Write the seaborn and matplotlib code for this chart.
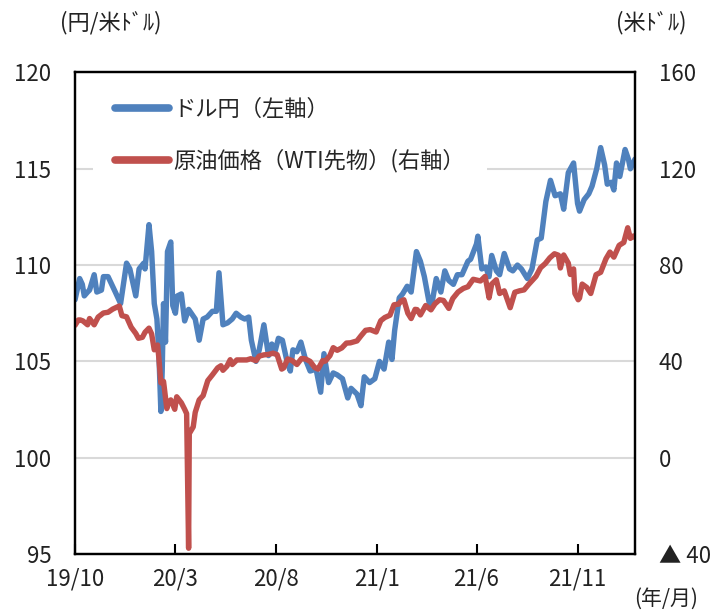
import pandas as pd
import matplotlib
matplotlib.use("Agg")
import matplotlib.pyplot as plt
import seaborn as sns


# DATA
usd_dates = [
    "2019-10-31", "2019-11-07", "2019-11-11", "2019-11-14", "2019-11-19", "2019-11-22",
    "2019-11-29", "2019-12-03", "2019-12-10", "2019-12-13", "2019-12-20", "2019-12-31",
    "2020-01-08", "2020-01-17", "2020-01-22", "2020-01-31", "2020-02-05", "2020-02-12",
    "2020-02-14", "2020-02-20", "2020-02-24", "2020-02-28", "2020-03-03", "2020-03-06",
    "2020-03-09", "2020-03-11", "2020-03-13", "2020-03-16", "2020-03-19", "2020-03-24",
    "2020-03-27", "2020-03-31", "2020-04-03", "2020-04-09", "2020-04-14", "2020-04-20",
    "2020-04-24", "2020-04-30", "2020-05-06", "2020-05-12", "2020-05-18", "2020-05-26",
    "2020-06-01", "2020-06-05", "2020-06-11", "2020-06-18", "2020-06-25", "2020-07-01",
    "2020-07-08", "2020-07-14", "2020-07-20", "2020-07-24", "2020-07-31", "2020-08-05",
    "2020-08-12", "2020-08-19", "2020-08-24", "2020-08-28", "2020-09-03", "2020-09-09",
    "2020-09-16", "2020-09-21", "2020-09-25", "2020-10-01", "2020-10-07", "2020-10-14",
    "2020-10-21", "2020-10-30", "2020-11-06", "2020-11-11", "2020-11-18", "2020-11-25",
    "2020-12-01", "2020-12-09", "2020-12-17", "2020-12-22", "2020-12-31", "2021-01-06",
    "2021-01-11", "2021-01-19", "2021-01-27", "2021-02-03", "2021-02-10", "2021-02-17",
    "2021-02-22", "2021-02-26", "2021-03-05", "2021-03-10", "2021-03-17", "2021-03-23",
    "2021-03-31", "2021-04-06", "2021-04-12", "2021-04-19", "2021-04-23", "2021-04-30",
    "2021-05-07", "2021-05-13", "2021-05-19", "2021-05-26", "2021-06-01", "2021-06-08",
    "2021-06-17", "2021-06-21", "2021-06-30", "2021-07-02", "2021-07-08", "2021-07-14",
    "2021-07-19", "2021-07-23", "2021-07-30", "2021-08-04", "2021-08-11", "2021-08-19",
    "2021-08-24", "2021-08-31", "2021-09-06", "2021-09-15", "2021-09-22", "2021-09-30",
    "2021-10-06", "2021-10-13", "2021-10-20", "2021-10-27", "2021-11-04", "2021-11-09",
    "2021-11-16", "2021-11-24", "2021-11-30", "2021-12-03", "2021-12-10", "2021-12-17",
    "2021-12-22", "2021-12-29", "2022-01-04", "2022-01-10", "2022-01-14", "2022-01-20",
    "2022-01-24", "2022-01-28", "2022-02-02", "2022-02-10", "2022-02-15", "2022-02-18",
    "2022-02-25",
]
usd_jpy = [
    108.2, 109.3, 109.0, 108.4, 108.6, 108.7,
    109.5, 108.6, 108.7, 109.4, 109.4, 108.6,
    108.0, 110.1, 109.8, 108.4, 109.8, 110.1,
    109.8, 112.1, 110.7, 108.0, 107.2, 105.4,
    102.4, 104.5, 108.0, 106.0, 110.7, 111.2,
    107.9, 107.5, 108.4, 108.5, 107.1, 107.7,
    107.5, 107.2, 106.1, 107.2, 107.3, 107.6,
    107.6, 109.6, 106.9, 107.0, 107.2, 107.5,
    107.3, 107.2, 107.3, 106.1, 105.0, 105.6,
    106.9, 105.3, 105.9, 105.4, 106.2, 106.1,
    105.0, 104.5, 105.6, 105.5, 106.0, 105.1,
    104.5, 104.6, 103.4, 105.4, 103.9, 104.4,
    104.3, 104.1, 103.1, 103.6, 103.3, 102.7,
    104.2, 103.9, 104.1, 105.0, 104.6, 106.0,
    105.1, 106.6, 108.3, 108.5, 108.9, 108.6,
    110.7, 110.2, 109.4, 108.1, 107.9, 109.3,
    108.6, 109.7, 109.2, 109.0, 109.5, 109.5,
    110.2, 110.3, 111.1, 111.5, 109.8, 109.9,
    109.4, 110.5, 109.7, 109.5, 110.6, 109.8,
    109.7, 110.0, 109.8, 109.3, 109.8, 111.3,
    111.4, 113.3, 114.4, 113.6, 113.7, 112.9,
    114.8, 115.3, 113.2, 112.8, 113.4, 113.7,
    114.1, 115.0, 116.1, 115.2, 114.2, 114.3,
    113.9, 115.3, 114.6, 116.0, 115.5, 115.0,
    115.5,
]

wti_dates = [
    "2019-10-31", "2019-11-05", "2019-11-08", "2019-11-12", "2019-11-19", "2019-11-22",
    "2019-11-29", "2019-12-05", "2019-12-13", "2019-12-20", "2019-12-27", "2020-01-06",
    "2020-01-10", "2020-01-17", "2020-01-24", "2020-01-31", "2020-02-04", "2020-02-10",
    "2020-02-14", "2020-02-20", "2020-02-24", "2020-02-28", "2020-03-04", "2020-03-06",
    "2020-03-09", "2020-03-13", "2020-03-18", "2020-03-20", "2020-03-24", "2020-03-30",
    "2020-04-02", "2020-04-09", "2020-04-14", "2020-04-17", "2020-04-20", "2020-04-21",
    "2020-04-27", "2020-04-30", "2020-05-06", "2020-05-12", "2020-05-19", "2020-05-26",
    "2020-06-03", "2020-06-08", "2020-06-11", "2020-06-17", "2020-06-22", "2020-06-25",
    "2020-07-02", "2020-07-10", "2020-07-17", "2020-07-23", "2020-07-31", "2020-08-05",
    "2020-08-12", "2020-08-19", "2020-08-26", "2020-09-01", "2020-09-08", "2020-09-11",
    "2020-09-17", "2020-09-24", "2020-10-01", "2020-10-08", "2020-10-14", "2020-10-21",
    "2020-10-28", "2020-11-02", "2020-11-09", "2020-11-13", "2020-11-20", "2020-11-25",
    "2020-12-01", "2020-12-08", "2020-12-15", "2020-12-21", "2020-12-31", "2021-01-06",
    "2021-01-13", "2021-01-20", "2021-01-29", "2021-02-05", "2021-02-11", "2021-02-19",
    "2021-02-25", "2021-03-04", "2021-03-08", "2021-03-12", "2021-03-18", "2021-03-23",
    "2021-03-29", "2021-04-01", "2021-04-06", "2021-04-14", "2021-04-22", "2021-04-28",
    "2021-05-05", "2021-05-11", "2021-05-19", "2021-05-25", "2021-06-02", "2021-06-10",
    "2021-06-17", "2021-06-25", "2021-07-06", "2021-07-13", "2021-07-19", "2021-07-23",
    "2021-07-30", "2021-08-04", "2021-08-11", "2021-08-20", "2021-08-27", "2021-09-03",
    "2021-09-10", "2021-09-17", "2021-09-28", "2021-10-05", "2021-10-12", "2021-10-19",
    "2021-10-26", "2021-11-01", "2021-11-04", "2021-11-09", "2021-11-16", "2021-11-19",
    "2021-11-24", "2021-11-26", "2021-12-01", "2021-12-03", "2021-12-07", "2021-12-14",
    "2021-12-20", "2021-12-28", "2022-01-04", "2022-01-12", "2022-01-18", "2022-01-24",
    "2022-02-01", "2022-02-08", "2022-02-14", "2022-02-18", "2022-02-23", "2022-02-25",
]
wti = [
    55.0, 57.2, 57.2, 56.8, 55.2, 57.8,
    55.2, 58.4, 60.1, 60.4, 61.7, 63.0,
    59.0, 58.5, 54.2, 51.6, 49.6, 50.0,
    52.1, 53.8, 51.4, 44.8, 46.8, 41.3,
    31.1, 31.7, 20.4, 22.4, 24.0, 20.1,
    25.3, 22.8, 20.1, 18.3, -37.6, 10.0,
    12.8, 18.8, 24.0, 25.8, 32.0, 34.4,
    37.3, 38.2, 36.3, 38.0, 40.7, 38.7,
    40.6, 40.6, 40.6, 41.1, 40.3, 42.2,
    42.7, 42.9, 43.4, 42.8, 36.8, 37.3,
    41.0, 40.3, 38.7, 41.2, 41.0, 40.0,
    37.4, 36.8, 40.3, 40.1, 42.4, 45.7,
    44.6, 45.6, 47.6, 47.7, 48.5, 50.6,
    52.9, 53.2, 52.2, 56.9, 58.2, 59.2,
    63.5, 63.8, 65.1, 65.6, 60.0, 57.8,
    61.6, 61.5, 59.3, 63.2, 61.4, 63.9,
    65.6, 65.3, 62.0, 66.1, 68.8, 70.3,
    71.0, 74.1, 73.4, 75.3, 66.4, 72.1,
    73.9, 68.2, 69.3, 62.3, 68.7, 69.3,
    69.7, 72.0, 75.3, 78.9, 80.6, 83.0,
    84.7, 84.1, 78.8, 84.2, 80.8, 76.1,
    78.4, 68.2, 65.6, 66.3, 72.1, 70.7,
    68.2, 76.0, 77.0, 82.6, 85.4, 83.3,
    88.2, 89.4, 95.5, 91.1, 92.1, 91.6,
]

tick_dates = ["2019-10-31", "2020-03-31", "2020-08-31", "2021-01-31", "2021-06-30", "2021-11-30"]
tick_labels = ["19/10", "20/3", "20/8", "21/1", "21/6", "21/11"]

left_ticks = [95, 100, 105, 110, 115, 120]
right_ticks = [-40, 0, 40, 80, 120, 160]
right_labels = ["▲ 40", "0", "40", "80", "120", "160"]

usd_label = "ドル円（左軸）"
wti_label = "原油価格（WTI先物）(右軸）"

BLUE = "#4F81BD"
RED = "#C0504D"

usd_df = pd.DataFrame({"date": pd.to_datetime(usd_dates), "value": usd_jpy})
wti_df = pd.DataFrame({"date": pd.to_datetime(wti_dates), "value": wti})

# STYLE
sns.set_theme(style="white")
plt.rcParams["font.family"] = ["Noto Sans CJK JP", "DejaVu Sans"]
plt.rcParams["axes.unicode_minus"] = False

fig = plt.figure(figsize=(7.18, 6.11), dpi=100)
ax = fig.add_axes([0.1045, 0.0933, 0.7799, 0.7881])
ax2 = ax.twinx()

# LINES
sns.lineplot(data=usd_df, x="date", y="value", ax=ax, color=BLUE, lw=3.9,
             label=usd_label, legend=False, solid_capstyle="round")
sns.lineplot(data=wti_df, x="date", y="value", ax=ax2, color=RED, lw=3.9,
             label=wti_label, legend=False, solid_capstyle="round")

# AXES
ax.set_xlim(pd.Timestamp("2019-10-31"), pd.Timestamp("2022-02-25"))
ax.set_ylim(95, 120)
ax2.set_ylim(-40, 160)

ax.set_yticks(left_ticks)
ax.set_yticklabels([str(v) for v in left_ticks])
ax2.set_yticks(right_ticks)
ax2.set_yticklabels(right_labels)

ax.set_xticks(pd.to_datetime(tick_dates))
ax.set_xticklabels(tick_labels)

ax.set_xlabel("")
ax.set_ylabel("")
ax2.set_ylabel("")

ax.yaxis.grid(True, color="#D9D9D9", lw=1.5)
ax.xaxis.grid(False)
ax.set_axisbelow(True)

ax.tick_params(axis="y", length=0, pad=17, labelsize=16, colors="#222222")
ax2.tick_params(axis="y", length=0, pad=17, labelsize=16, colors="#222222")
ax.tick_params(axis="x", direction="in", length=7, width=1.5, color="black",
               pad=10, labelsize=16, labelcolor="#222222", bottom=True)

for a in (ax, ax2):
    for s in a.spines.values():
        s.set_color("black")
        s.set_linewidth(1.6)

# LEGEND
handles = ax.get_lines()[:1] + ax2.get_lines()[:1]
leg = ax2.legend(handles, [usd_label, wti_label], loc="upper left",
                 bbox_to_anchor=(93 / 718, 1 - 76 / 611), bbox_transform=fig.transFigure,
                 fontsize=16, frameon=True, facecolor="white", edgecolor="none",
                 framealpha=1, fancybox=False, handlelength=2.4, handletextpad=0.2,
                 labelspacing=1.24, borderaxespad=0, borderpad=1.0)
for line in leg.get_lines():
    line.set_linewidth(5.5)

# UNIT LABELS
fig.text(60 / 718, 1 - 23 / 611, "(円/米ﾄﾞﾙ)", fontsize=16, ha="left", va="center", color="#222222")
fig.text(686 / 718, 1 - 23 / 611, "(米ﾄﾞﾙ)", fontsize=16, ha="right", va="center", color="#222222")
fig.text(698 / 718, 1 - 599 / 611, "(年/月)", fontsize=15, ha="right", va="center", color="#222222")

fig.savefig("out.png", dpi=100)
plt.close(fig)
